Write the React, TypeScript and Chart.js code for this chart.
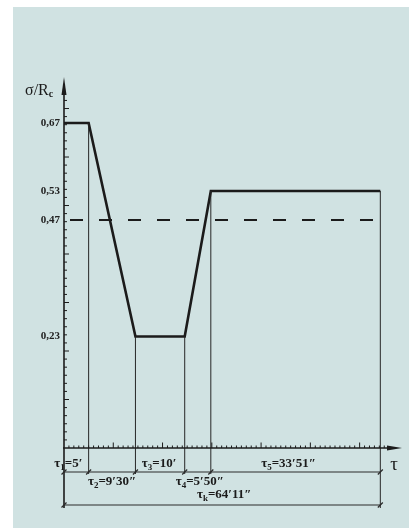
import React, { useEffect, useRef } from "react";
import { Chart, registerables } from "chart.js";

Chart.register(...registerables);

// ---- data ----
const tauBreaks = [0, 5, 14.5, 24.5, 29.8, 64.2]; // minutes (cumulative)
const sigmaProfile = [0.67, 0.67, 0.23, 0.23, 0.53, 0.53]; // σ/Re
const dashedLevel = [0.47, 0.47];
const yTickValues = [0.23, 0.47, 0.53, 0.67];
const durationSubs = ["1", "2", "3", "4", "5"];
const durationTexts = ["=5′", "=9′30″", "=10′", "=5′50″", "=33′51″"];
const totalSub = "k";
const totalText = "=64′11″";
const xAxisTitle = "τ";
const yAxisTitle = "σ/R";
const yAxisTitleSub = "c";

const INK = "#1b1b1b";
const FONT = "'Liberation Serif', 'Times New Roman', serif";

function drawSubText(
  ctx: CanvasRenderingContext2D,
  base: string,
  sub: string,
  rest: string,
  cx: number,
  baseline: number,
  size: number
) {
  const subSize = Math.round(size * 0.72);
  ctx.font = `bold ${size}px ${FONT}`;
  const w1 = ctx.measureText(base).width;
  const w3 = ctx.measureText(rest).width;
  ctx.font = `bold ${subSize}px ${FONT}`;
  const w2 = ctx.measureText(sub).width;
  const total = w1 + w2 + w3;
  let x = cx - total / 2;
  ctx.textAlign = "left";
  ctx.textBaseline = "alphabetic";
  ctx.fillStyle = INK;
  ctx.font = `bold ${size}px ${FONT}`;
  ctx.fillText(base, x, baseline);
  x += w1;
  ctx.font = `bold ${subSize}px ${FONT}`;
  ctx.fillText(sub, x, baseline + size * 0.22);
  x += w2;
  ctx.font = `bold ${size}px ${FONT}`;
  ctx.fillText(rest, x, baseline);
}

const decorPlugin = {
  id: "decor",
  afterDraw(chart: any) {
    const ctx: CanvasRenderingContext2D = chart.ctx;
    const xs = chart.scales.x;
    const ys = chart.scales.y;
    const X0 = xs.getPixelForValue(0);
    const Y0 = ys.getPixelForValue(0);
    const top = chart.chartArea.top;
    const right = chart.chartArea.right;
    const row1 = Y0 + 24;
    const row2 = Y0 + 57;
    const xb = tauBreaks.map((t) => xs.getPixelForValue(t));
    const xEnd = xb[xb.length - 1];

    ctx.save();
    ctx.lineCap = "butt";

    // thin vertical lines from the profile down to the dimension lines
    ctx.strokeStyle = "#262626";
    ctx.lineWidth = 1;
    [1, 2, 3, 4].forEach((i) => {
      const yTop = ys.getPixelForValue(sigmaProfile[i]);
      ctx.beginPath();
      ctx.moveTo(xb[i], yTop);
      ctx.lineTo(xb[i], row1 + 2);
      ctx.stroke();
    });
    {
      const yTop = ys.getPixelForValue(sigmaProfile[sigmaProfile.length - 1]);
      ctx.beginPath();
      ctx.moveTo(xEnd, yTop);
      ctx.lineTo(xEnd, row2 + 3);
      ctx.stroke();
    }

    // y axis line
    ctx.strokeStyle = INK;
    ctx.lineWidth = 1.6;
    ctx.beginPath();
    ctx.moveTo(X0, top + 8);
    ctx.lineTo(X0, row2 + 3);
    ctx.stroke();
    ctx.fillStyle = INK;
    ctx.beginPath();
    ctx.moveTo(X0, top);
    ctx.lineTo(X0 - 2.5, top + 18);
    ctx.lineTo(X0 + 2.5, top + 18);
    ctx.closePath();
    ctx.fill();

    // x axis line
    ctx.beginPath();
    ctx.moveTo(X0 - 1, Y0);
    ctx.lineTo(right - 6, Y0);
    ctx.stroke();
    ctx.beginPath();
    ctx.moveTo(right, Y0);
    ctx.lineTo(right - 15, Y0 - 2.5);
    ctx.lineTo(right - 15, Y0 + 2.5);
    ctx.closePath();
    ctx.fill();

    // y ticks
    ctx.lineWidth = 1;
    for (let k = 1; k <= 43; k++) {
      const y = ys.getPixelForValue(k / 60);
      const major = k % 6 === 0;
      ctx.beginPath();
      ctx.moveTo(X0, y);
      ctx.lineTo(X0 + (major ? 5 : 3), y);
      ctx.stroke();
    }
    // x ticks
    for (let m = 1; m <= 65; m++) {
      const x = xs.getPixelForValue(m);
      const major = m % 10 === 0;
      ctx.beginPath();
      ctx.moveTo(x, Y0);
      ctx.lineTo(x, Y0 - (major ? 5.5 : 2.5));
      ctx.stroke();
    }

    // dimension lines
    ctx.strokeStyle = "#2a2a2a";
    ctx.lineWidth = 1;
    [row1, row2].forEach((r) => {
      ctx.beginPath();
      ctx.moveTo(X0, r);
      ctx.lineTo(xEnd, r);
      ctx.stroke();
    });
    const slash = (x: number, y: number) => {
      ctx.beginPath();
      ctx.moveTo(x - 2.5, y + 2.5);
      ctx.lineTo(x + 2.5, y - 2.5);
      ctx.stroke();
    };
    ctx.lineWidth = 1.2;
    xb.forEach((x) => slash(x, row1));
    slash(X0, row2);
    slash(xEnd, row2);

    // dimension labels
    const labelDx = [-8, 0, -1, 2, -7];
    const above = [true, false, true, false, true];
    for (let i = 0; i < durationTexts.length; i++) {
      const cx = (xb[i] + xb[i + 1]) / 2 + labelDx[i];
      const bl = above[i] ? row1 - 5 : row1 + 13;
      drawSubText(ctx, "τ", durationSubs[i], durationTexts[i], cx, bl, 13);
    }
    drawSubText(ctx, "τ", totalSub, totalText, (X0 + xEnd) / 2 + 2, row2 - 7, 13);

    // axis titles
    ctx.fillStyle = INK;
    ctx.font = `19px ${FONT}`;
    ctx.textAlign = "center";
    ctx.textBaseline = "alphabetic";
    ctx.fillText(xAxisTitle, right - 8, Y0 + 22);

    ctx.font = `16px ${FONT}`;
    ctx.textAlign = "left";
    const wT = ctx.measureText(yAxisTitle).width;
    const tx = X0 - 39;
    const tb = top + 18;
    ctx.fillText(yAxisTitle, tx, tb);
    ctx.font = `bold 10px ${FONT}`;
    ctx.fillText(yAxisTitleSub, tx + wT, tb + 2);

    ctx.restore();
  },
};

export default function App() {
  const ref = useRef<HTMLCanvasElement | null>(null);

  useEffect(() => {
    if (!ref.current) return;
    const chart = new Chart(ref.current, {
      type: "line",
      data: {
        datasets: [
          {
            data: tauBreaks.map((x, i) => ({ x, y: sigmaProfile[i] })),
            borderColor: INK,
            borderWidth: 2.6,
            pointRadius: 0,
            tension: 0,
            fill: false,
            borderJoinStyle: "miter",
          },
          {
            data: [
              { x: tauBreaks[0], y: dashedLevel[0] },
              { x: tauBreaks[tauBreaks.length - 1], y: dashedLevel[1] },
            ],
            borderColor: INK,
            borderWidth: 2,
            borderDash: [13, 16],
            borderDashOffset: 23,
            pointRadius: 0,
            fill: false,
          },
        ],
      },
      options: {
        responsive: false,
        animation: false,
        devicePixelRatio: 1,
        layout: { padding: { left: 0, top: 77, right: 7, bottom: 81 } },
        plugins: {
          legend: { display: false },
          tooltip: { enabled: false },
        },
        scales: {
          x: { type: "linear", min: 0, max: 68.6, display: false },
          y: {
            type: "linear",
            min: 0,
            max: 0.765,
            afterBuildTicks: (s: any) => {
              s.ticks = yTickValues.map((v) => ({ value: v }));
            },
            afterFit: (s: any) => {
              s.width = 64;
            },
            grid: { display: false, drawTicks: false },
            border: { display: false },
            ticks: {
              autoSkip: false,
              padding: 4,
              color: "#222",
              font: { family: FONT, weight: "bold", size: 11 },
              callback: (v: any) => Number(v).toFixed(2).replace(".", ","),
            },
          },
        },
      },
      plugins: [decorPlugin],
    } as any);
    return () => chart.destroy();
  }, []);

  return (
    <div
      style={{
        position: "absolute",
        left: 0,
        top: 0,
        width: 409,
        height: 529,
        background: "#ffffff",
        overflow: "hidden",
      }}
    >
      <div
        style={{
          position: "absolute",
          left: 13,
          top: 7,
          width: 396,
          height: 521,
          background: "#d0e2e2",
        }}
      />
      <canvas
        ref={ref}
        width={409}
        height={529}
        style={{ position: "absolute", left: 0, top: 0, width: 409, height: 529 }}
      />
    </div>
  );
}
